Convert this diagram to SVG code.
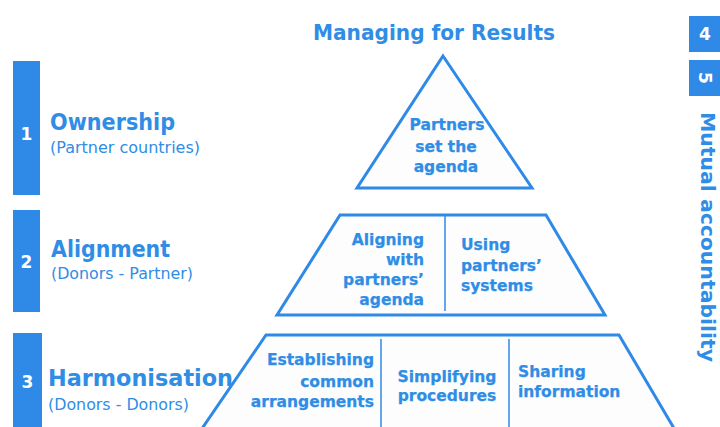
<svg xmlns="http://www.w3.org/2000/svg" width="720" height="427" viewBox="0 0 720 427">
<style>
.bar{fill:#2e8ae6}
.num{font-family:"DejaVu Sans",Verdana,sans-serif;font-weight:bold;font-size:17px;fill:#ffffff;text-anchor:middle}
.t{font-family:"DejaVu Sans",Verdana,sans-serif;font-weight:bold;fill:#2f8de6}
.s{font-family:"DejaVu Sans",Verdana,sans-serif;fill:#2f8de6;font-size:15px}
.shape{fill:#fdfdfd;stroke:#2e8ae6;stroke-width:3;stroke-linejoin:miter}
.div{stroke:#2e8ae6;stroke-width:1.5;fill:none}
.lbl{font-family:"DejaVu Sans",Verdana,sans-serif;font-weight:bold;fill:#2f8de6;font-size:15.5px;stroke:#2f8de6;stroke-width:0.25}
</style>
<rect width="720" height="427" fill="#ffffff"/>
<g id="title">
<text class="t" x="434" y="40" font-size="22" text-anchor="middle" textLength="242" lengthAdjust="spacingAndGlyphs">Managing for Results</text>
</g>
<g id="principle1">
<rect class="bar" x="13" y="61" width="27" height="134"/>
<text class="num" x="26.5" y="140">1</text>
<text class="t" x="50" y="130" font-size="23" textLength="125" lengthAdjust="spacingAndGlyphs">Ownership</text>
<text class="s" x="50" y="153" textLength="150" lengthAdjust="spacingAndGlyphs">(Partner countries)</text>
</g>
<g id="principle2">
<rect class="bar" x="13" y="210" width="27" height="102"/>
<text class="num" x="26.5" y="268">2</text>
<text class="t" x="51" y="257" font-size="23" textLength="119" lengthAdjust="spacingAndGlyphs">Alignment</text>
<text class="s" x="51" y="279" textLength="142" lengthAdjust="spacingAndGlyphs">(Donors - Partner)</text>
</g>
<g id="principle3">
<rect class="bar" x="13" y="333" width="29" height="94"/>
<text class="num" x="27.5" y="388">3</text>
<text class="t" x="48" y="386" font-size="23" textLength="185" lengthAdjust="spacingAndGlyphs">Harmonisation</text>
<text class="s" x="48" y="410" textLength="141" lengthAdjust="spacingAndGlyphs">(Donors - Donors)</text>
</g>
<g id="principle4">
<rect class="bar" x="689" y="16" width="31" height="36"/>
<text class="num" x="705" y="40">4</text>
</g>
<g id="principle5">
<rect class="bar" x="689" y="60" width="31" height="36"/>
<text class="num" transform="translate(699,78) rotate(90)" x="0" y="0">5</text>
</g>
<g id="mutual-accountability">
<text class="t" font-size="20" transform="translate(701,112) rotate(90)" x="0" y="0" textLength="250" lengthAdjust="spacingAndGlyphs">Mutual accountability</text>
</g>
<g id="pyramid-top">
<polygon class="shape" points="443,56 532,188 357,188"/>
<text class="lbl" x="447" y="130" text-anchor="middle" textLength="75" lengthAdjust="spacingAndGlyphs">Partners</text>
<text class="lbl" x="446" y="152" text-anchor="middle">set the</text>
<text class="lbl" x="446" y="172" text-anchor="middle">agenda</text>
</g>
<g id="pyramid-middle">
<polygon class="shape" points="340,215 546,215 605,315 277,315"/>
<text class="lbl" x="424" y="245" text-anchor="end">Aligning</text>
<text class="lbl" x="424" y="265" text-anchor="end">with</text>
<text class="lbl" x="424" y="285" text-anchor="end">partners’</text>
<text class="lbl" x="424" y="305" text-anchor="end">agenda</text>
<text class="lbl" x="461" y="250">Using</text>
<text class="lbl" x="461" y="271">partners’</text>
<text class="lbl" x="461" y="291">systems</text>
</g>
<g id="pyramid-bottom">
<polygon class="shape" points="266,335 619,335 675,430 201,430"/>
<text class="lbl" x="374" y="365" text-anchor="end">Establishing</text>
<text class="lbl" x="374" y="387" text-anchor="end">common</text>
<text class="lbl" x="374" y="407" text-anchor="end">arrangements</text>
<text class="lbl" x="447" y="382" text-anchor="middle" textLength="99" lengthAdjust="spacingAndGlyphs">Simplifying</text>
<text class="lbl" x="447" y="401" text-anchor="middle">procedures</text>
<text class="lbl" x="518" y="377">Sharing</text>
<text class="lbl" x="518" y="397">information</text>
</g>
<g id="connectors">
<line class="div" x1="445" y1="216" x2="445" y2="311"/>
<line class="div" x1="381" y1="339" x2="381" y2="427"/>
<line class="div" x1="509" y1="339" x2="509" y2="427"/>
</g>
</svg>
